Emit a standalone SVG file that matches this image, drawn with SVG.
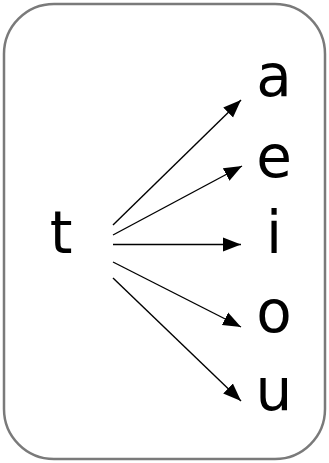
<svg xmlns="http://www.w3.org/2000/svg" width="329" height="463" viewBox="0 0 329 463">
<style>
.lbl{font-family:"DejaVu Sans",sans-serif;font-size:58px;fill:#000;text-anchor:middle}
.edge{stroke:#000;stroke-width:1.4;fill:none}
</style>
<defs>
<marker id="ah" markerUnits="userSpaceOnUse" markerWidth="20" markerHeight="16" refX="18" refY="8" orient="auto">
<path d="M0,1 L18,8 L0,15 Z" fill="#000"/>
</marker>
</defs>
<rect x="4" y="4" width="321" height="455" rx="50" ry="50" fill="#fff" stroke="#7a7a7a" stroke-width="2.5"/>
<g id="connectors">
<line class="edge" x1="113" y1="225" x2="241" y2="100" marker-end="url(#ah)"/>
<line class="edge" x1="113" y1="235" x2="242" y2="166" marker-end="url(#ah)"/>
<line class="edge" x1="113" y1="244.5" x2="241" y2="244.5" marker-end="url(#ah)"/>
<line class="edge" x1="113" y1="262" x2="241" y2="327" marker-end="url(#ah)"/>
<line class="edge" x1="113" y1="278" x2="241" y2="401" marker-end="url(#ah)"/>
</g>
<g id="t"><text class="lbl" x="61" y="253">t</text></g>
<g id="a"><text class="lbl" x="274" y="96">a</text></g>
<g id="e"><text class="lbl" x="274" y="177">e</text></g>
<g id="i"><text class="lbl" x="274" y="253">i</text></g>
<g id="o"><text class="lbl" x="274" y="332">o</text></g>
<g id="u"><text class="lbl" x="274" y="410">u</text></g>
</svg>
